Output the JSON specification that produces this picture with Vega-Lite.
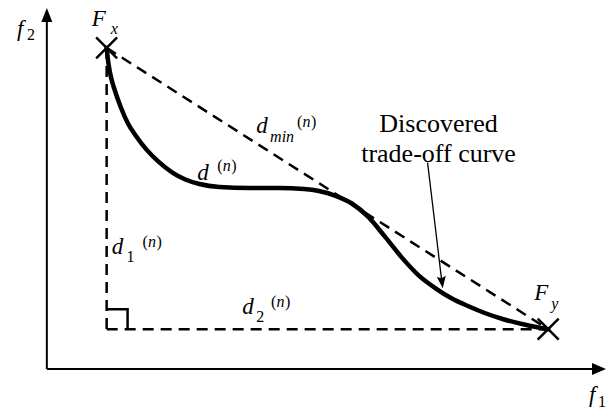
{
  "$schema": "https://vega.github.io/schema/vega-lite/v6.json",
  "width": 606,
  "height": 410,
  "autosize": {"type": "fit", "contains": "padding"},
  "padding": 0,
  "background": "white",
  "config": {"view": {"stroke": null}},
  "datasets": {
    "axes": [{"x": 47, "y": 370, "x2": 47, "y2": 16}, {"x": 47, "y": 370, "x2": 596, "y2": 370}],
    "headY": [{"x": 47, "y": 14}],
    "headX": [{"x": 600, "y": 370}],
    "dashes": [
      {"x": 107, "y": 48, "x2": 107, "y2": 330},
      {"x": 107, "y": 330, "x2": 550, "y2": 330},
      {"x": 107, "y": 48, "x2": 550, "y2": 330}
    ],
    "corner": [{"x": 107, "y": 310, "k": 1}, {"x": 128, "y": 310, "k": 2}, {"x": 128, "y": 330, "k": 3}],
    "curve": [
      {"x": 107, "y": 48, "k": 1}, {"x": 109, "y": 65, "k": 2}, {"x": 112, "y": 80, "k": 3},
      {"x": 115, "y": 90, "k": 4}, {"x": 121, "y": 107, "k": 5}, {"x": 128, "y": 123, "k": 6},
      {"x": 137, "y": 137, "k": 7}, {"x": 147, "y": 150, "k": 8}, {"x": 159, "y": 162, "k": 9},
      {"x": 173, "y": 173, "k": 10}, {"x": 186, "y": 180, "k": 11}, {"x": 200, "y": 184.5, "k": 12},
      {"x": 220, "y": 187.5, "k": 13}, {"x": 250, "y": 188.5, "k": 14}, {"x": 280, "y": 188.5, "k": 15},
      {"x": 305, "y": 189.5, "k": 16}, {"x": 320, "y": 191.5, "k": 17}, {"x": 336, "y": 196, "k": 18},
      {"x": 353, "y": 204, "k": 19}, {"x": 369, "y": 217, "k": 20}, {"x": 386, "y": 237, "k": 21},
      {"x": 403, "y": 258, "k": 22}, {"x": 420, "y": 276, "k": 23}, {"x": 437, "y": 289, "k": 24},
      {"x": 453, "y": 299, "k": 25}, {"x": 470, "y": 307, "k": 26}, {"x": 487, "y": 314, "k": 27},
      {"x": 505, "y": 320, "k": 28}, {"x": 527, "y": 325.5, "k": 29}, {"x": 550, "y": 330, "k": 30}
    ],
    "crosses": [{"x": 107, "y": 48}, {"x": 550, "y": 330}],
    "pointer": [{"x": 429, "y": 163, "x2": 443, "y2": 280}],
    "pointerHead": [{"x": 443, "y": 279}],
    "italicBig": [
      {"x": 17, "y": 36, "label": "f"}, {"x": 591, "y": 403, "label": "f"},
      {"x": 92, "y": 26, "label": "F"}, {"x": 536, "y": 301, "label": "F"},
      {"x": 257, "y": 133, "label": "d"}, {"x": 198, "y": 180, "label": "d"},
      {"x": 112, "y": 255, "label": "d"}, {"x": 243, "y": 315, "label": "d"}
    ],
    "italicSmall": [
      {"x": 111, "y": 34, "label": "x"}, {"x": 553, "y": 310, "label": "y"},
      {"x": 271, "y": 142, "label": "min"},
      {"x": 303.5, "y": 127, "label": "n"}, {"x": 223.5, "y": 171, "label": "n"},
      {"x": 148.5, "y": 248, "label": "n"}, {"x": 277.5, "y": 308, "label": "n"}
    ],
    "regularSmall": [
      {"x": 27, "y": 40, "label": "2"}, {"x": 600, "y": 408, "label": "1"},
      {"x": 127, "y": 263, "label": "1"}, {"x": 257, "y": 323, "label": "2"},
      {"x": 298, "y": 127, "label": "("}, {"x": 312, "y": 127, "label": ")"},
      {"x": 218, "y": 171, "label": "("}, {"x": 232, "y": 171, "label": ")"},
      {"x": 143, "y": 248, "label": "("}, {"x": 157, "y": 248, "label": ")"},
      {"x": 272, "y": 308, "label": "("}, {"x": 286, "y": 308, "label": ")"}
    ],
    "caption": [{"x": 440, "y": 132, "label": "Discovered"}, {"x": 440, "y": 162, "label": "trade-off curve"}]
  },
  "encoding": {
    "x": {"field": "x", "type": "quantitative", "scale": {"domain": [0, 606], "nice": false, "zero": false}, "axis": null},
    "y": {"field": "y", "type": "quantitative", "scale": {"domain": [0, 410], "nice": false, "zero": false, "reverse": true}, "axis": null}
  },
  "layer": [
    {
      "data": {"name": "axes"},
      "mark": {"type": "rule", "color": "black", "strokeWidth": 2},
      "encoding": {"x2": {"field": "x2"}, "y2": {"field": "y2"}}
    },
    {
      "data": {"name": "headY"},
      "mark": {"type": "point", "shape": "M0,-0.6L0.55,0.8L-0.55,0.8Z", "size": 400, "filled": true, "opacity": 1, "color": "black", "strokeWidth": 0}
    },
    {
      "data": {"name": "headX"},
      "mark": {"type": "point", "shape": "M0.8,0L-0.6,-0.6L-0.6,0.6Z", "size": 400, "filled": true, "opacity": 1, "color": "black", "strokeWidth": 0}
    },
    {
      "data": {"name": "dashes"},
      "mark": {"type": "rule", "color": "black", "strokeWidth": 2.5, "strokeDash": [11, 7]},
      "encoding": {"x2": {"field": "x2"}, "y2": {"field": "y2"}}
    },
    {
      "data": {"name": "corner"},
      "mark": {"type": "line", "color": "black", "strokeWidth": 2.5},
      "encoding": {"order": {"field": "k", "type": "quantitative"}}
    },
    {
      "data": {"name": "curve"},
      "mark": {"type": "line", "color": "black", "strokeWidth": 4.5, "interpolate": "monotone", "strokeCap": "round"},
      "encoding": {"order": {"field": "k", "type": "quantitative"}}
    },
    {
      "data": {"name": "crosses"},
      "mark": {"type": "point", "shape": "M-1,-1L1,1M-1,1L1,-1", "size": 441, "filled": false, "opacity": 1, "color": "black", "strokeWidth": 2.5}
    },
    {
      "data": {"name": "pointer"},
      "mark": {"type": "rule", "color": "black", "strokeWidth": 1.3},
      "encoding": {"x2": {"field": "x2"}, "y2": {"field": "y2"}}
    },
    {
      "data": {"name": "pointerHead"},
      "mark": {"type": "point", "shape": "M0,1L-0.45,-0.2L0,0L0.45,-0.2Z", "size": 400, "angle": -7, "filled": true, "opacity": 1, "color": "black", "strokeWidth": 0}
    },
    {
      "data": {"name": "italicBig"},
      "mark": {"type": "text", "font": "Liberation Serif", "fontStyle": "italic", "fontSize": 23, "align": "left", "baseline": "alphabetic", "color": "black"},
      "encoding": {"text": {"field": "label"}}
    },
    {
      "data": {"name": "italicSmall"},
      "mark": {"type": "text", "font": "Liberation Serif", "fontStyle": "italic", "fontSize": 16, "align": "left", "baseline": "alphabetic", "color": "black"},
      "encoding": {"text": {"field": "label"}}
    },
    {
      "data": {"name": "regularSmall"},
      "mark": {"type": "text", "font": "Liberation Serif", "fontSize": 16, "align": "left", "baseline": "alphabetic", "color": "black"},
      "encoding": {"text": {"field": "label"}}
    },
    {
      "data": {"name": "caption"},
      "mark": {"type": "text", "font": "Liberation Serif", "fontSize": 26, "align": "center", "baseline": "alphabetic", "color": "black"},
      "encoding": {"text": {"field": "label"}}
    }
  ]
}
